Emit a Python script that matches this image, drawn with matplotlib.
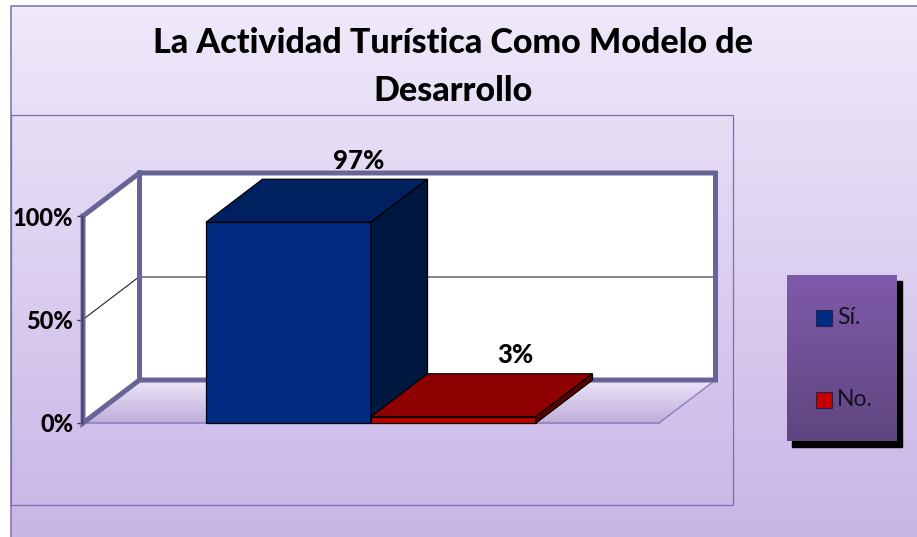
import numpy as np
import matplotlib
matplotlib.use("Agg")
import matplotlib.pyplot as plt
from matplotlib.colors import LinearSegmentedColormap
from matplotlib.patches import Polygon, Rectangle

plt.rcParams["font.family"] = ["Lato", "DejaVu Sans"]

# Chart data
series_names = ["Sí.", "No."]
series_values = [97, 3]
value_labels = ["97%", "3%"]
y_ticks = [0, 50, 100]
y_tick_labels = ["0%", "50%", "100%"]
title_lines = ["La Actividad Turística Como Modelo de", "Desarrollo"]

W, H = 917, 537
WALL = "#686498"
BORDER = "#7870a8"
HEAVY = 900
front_colors = ["#002b80", "#c00000"]
top_colors = ["#00215f", "#8f0000"]
side_colors = ["#00173f", "#5f0000"]


def vgrad(axis, extent, c_top, c_bottom, clip=None, zorder=0):
    cmap = LinearSegmentedColormap.from_list("g", [c_top, c_bottom])
    im = axis.imshow(np.linspace(0, 1, 256).reshape(-1, 1), cmap=cmap, extent=extent,
                     aspect="auto", origin="upper", zorder=zorder)
    if clip is not None:
        im.set_clip_path(clip)
    return im


fig = plt.figure(figsize=(W / 100, H / 100), dpi=100)

# Background layer in pixel coordinates
bg = fig.add_axes([0, 0, 1, 1])
vgrad(bg, (0, W, H, 0), "#f0eafa", "#c8b5e6")
bg.add_patch(Rectangle((0, 0), 10, H, color="white", zorder=1))
bg.add_patch(Rectangle((0, 0), W, 5, color="white", zorder=1))
bg.plot([10.5, 10.5, W], [H, 5.5, 5.5], color=BORDER, lw=1.1, zorder=2)
bg.add_patch(Rectangle((10.5, 115), 722, 390, fill=False, ec=BORDER, lw=0.9, zorder=2))
bg.set_xlim(0, W)
bg.set_ylim(H, 0)
bg.axis("off")

for line, y in zip(title_lines, [43, 91]):
    bg.text(453, y, line, ha="center", va="center", fontsize=24.5, fontweight=HEAVY, color="black")

# Legend box
bg.add_patch(Rectangle((792, 281), 110, 166, color="black", zorder=2))
box = Rectangle((787, 275), 110, 166, fc="none", ec="none", zorder=3)
bg.add_patch(box)
vgrad(bg, (787, 897, 441, 275), "#7f5aaa", "#5f4680", clip=box, zorder=3)
for name, color, y in zip(series_names, front_colors, [318, 400]):
    bg.add_patch(Rectangle((816, y - 8), 16, 16, fc=color, ec="#222244", lw=0.8, zorder=4))
    bg.text(837, y, name, ha="left", va="center", fontsize=16.5, color="#111122", zorder=4)

# floor gradient sits on the background layer
floor_bg = Polygon([(83, 423), (659, 423), (716, 380), (139, 380)], fc="none", ec="none")
bg.add_patch(floor_bg)
vgrad(bg, (83, 716, 423, 380), "#ece6f8", "#bfaddb", clip=floor_bg, zorder=2)
bg.set_xlim(0, W)
bg.set_ylim(H, 0)

# Front plane of the 3D plot: x 83-659 px, y 216-423 px
x0, x1, y_top, y_bot = 83, 659, 216, 423
ax = fig.add_axes([x0 / W, 1 - y_bot / H, (x1 - x0) / W, (y_bot - y_top) / H])
ax.patch.set_alpha(0)
ax.set_xlim(0, 1)
ax.set_ylim(0, 100)
for s in ax.spines.values():
    s.set_visible(False)
ax.set_xticks([])
ax.set_yticks(y_ticks)
ax.set_yticklabels(y_tick_labels, fontsize=17, fontweight=HEAVY)
ax.tick_params(axis="y", length=4, width=1, color="#333355", pad=3)

# depth offset of the 3D view, data units
dx = 56.5 / (x1 - x0)
dy = 43 / (y_bot - y_top) * 100
bar_w = 165 / (x1 - x0)

# walls
ax.add_patch(Polygon([(dx, dy), (1 + dx, dy), (1 + dx, 100 + dy), (dx, 100 + dy)],
                     fc="white", ec="none", clip_on=False, zorder=1))
ax.add_patch(Polygon([(0, 0), (dx, dy), (dx, 100 + dy), (0, 100)],
                     fc="white", ec="none", clip_on=False, zorder=1))
ax.plot([0, 1], [0, 0], color="#8f82b8", lw=1.2, clip_on=False, zorder=2)
ax.plot([1, 1 + dx], [0, dy], color="#8880b8", lw=1, clip_on=False, zorder=2)

# gridlines on the walls
for v in y_ticks[1:-1]:
    ax.plot([0, dx], [v, v + dy], color="#222222", lw=0.8, clip_on=False, zorder=2)
    ax.plot([dx, 1 + dx], [v + dy, v + dy], color="#666666", lw=1.1, clip_on=False, zorder=2)

# thick wall edges
ax.plot([0, dx, 1 + dx, 1 + dx, dx, dx], [100, 100 + dy, 100 + dy, dy, dy, 100 + dy],
        color=WALL, lw=3.6, clip_on=False, zorder=3, solid_joinstyle="miter")
ax.plot([0, 0, dx], [100, 0, dy], color=WALL, lw=3.6, clip_on=False, zorder=3, solid_joinstyle="miter")
ax.plot([-0.002, -0.002], [0, 100], color="#3c3a60", lw=1, clip_on=False, zorder=3)

# bars, centred as one cluster
left = 0.5 - bar_w
for i, val in enumerate(series_values):
    l = left + i * bar_w
    r = l + bar_w
    z = 4 + i
    ax.bar(l, val, width=bar_w, align="edge", color=front_colors[i], edgecolor="black", lw=0.9,
           clip_on=False, zorder=z)
    ax.add_patch(Polygon([(l, val), (r, val), (r + dx, val + dy), (l + dx, val + dy)],
                         fc=top_colors[i], ec="black", lw=0.9, clip_on=False, zorder=z))
    ax.add_patch(Polygon([(r, 0), (r + dx, dy), (r + dx, val + dy), (r, val)],
                         fc=side_colors[i], ec="black", lw=0.9, clip_on=False, zorder=z))

# data labels
label_dx = [70 / (x1 - x0), 62 / (x1 - x0)]
for i, val in enumerate(series_values):
    cx = left + (i + 0.5) * bar_w + label_dx[i]
    ax.text(cx, val + dy + 9, value_labels[i], ha="center", va="center", fontsize=18.5,
            fontweight=HEAVY, color="black", clip_on=False, zorder=8)

fig.savefig("out.png", dpi=100)
